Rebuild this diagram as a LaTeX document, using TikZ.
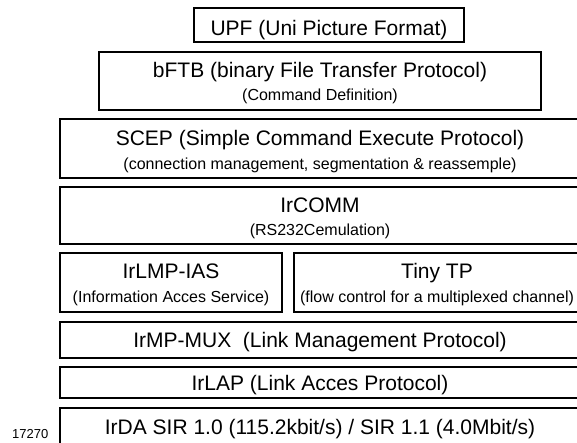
\documentclass[tikz,border=0pt]{standalone}
\usepackage{fontspec}
\setmainfont{Liberation Sans}
\begin{document}
\begin{tikzpicture}[x=1pt,y=-1pt,
  layer/.style={draw, line width=1.3pt, inner sep=0pt, outer sep=0pt, anchor=north west},
  maintxt/.style={font=\fontsize{21}{21}\selectfont, anchor=base, inner sep=0pt},
  subtxt/.style={font=\fontsize{16}{16}\selectfont, anchor=base, inner sep=0pt},
  figno/.style={font=\fontsize{13}{13}\selectfont, anchor=base west, inner sep=0pt}]
\clip (0,0) rectangle (577,443);
% boxes
\node[layer, minimum width=270pt, minimum height=34pt] (upf) at (194,8) {};
\node[layer, minimum width=442pt, minimum height=58pt] (bftb) at (99,52) {};
\node[layer, minimum width=525pt, minimum height=59pt] (scep) at (60,119) {};
\node[layer, minimum width=525pt, minimum height=57pt] (ircomm) at (60,187) {};
\node[layer, minimum width=222pt, minimum height=59pt] (irlmp) at (60,253) {};
\node[layer, minimum width=291pt, minimum height=59pt] (tinytp) at (294,253) {};
\node[layer, minimum width=525pt, minimum height=36pt] (mux) at (60,322) {};
\node[layer, minimum width=525pt, minimum height=31pt] (irlap) at (60,367) {};
\node[layer, minimum width=525pt, minimum height=50pt] (irda) at (60,408) {};
% texts
\node[maintxt] (tupf) at (329,36) {UPF (Uni Picture Format)};
\node[maintxt] (tbftb) at (320,78) {bFTB (binary File Transfer Protocol)};
\node[subtxt] (sbftb) at (320,101) {(Command Definition)};
\node[maintxt] (tscep) at (320,146) {SCEP (Simple Command Execute Protocol)};
\node[subtxt] (sscep) at (320,170) {(connection management, segmentation \& reassemple)};
\node[maintxt] (tircomm) at (320,213) {IrCOMM};
\node[subtxt] (sircomm) at (320,236) {(RS232Cemulation)};
\node[maintxt] (tirlmp) at (171,278) {IrLMP-IAS};
\node[subtxt] (sirlmp) at (171,302) {(Information Acces Service)};
\node[maintxt] (ttiny) at (437,278) {Tiny TP};
\node[subtxt] (stiny) at (437,302) {(flow control for a multiplexed channel)};
\node[maintxt] (tmux) at (320,347.5) {IrMP-MUX\ \ (Link Management Protocol)};
\node[maintxt] (tirlap) at (320,390) {IrLAP (Link Acces Protocol)};
\node[maintxt] (tirda) at (320,434) {IrDA SIR 1.0 (115.2kbit/s) / SIR 1.1 (4.0Mbit/s)};
\node[figno] (fig) at (12,438) {17270};
\end{tikzpicture}
\end{document}
